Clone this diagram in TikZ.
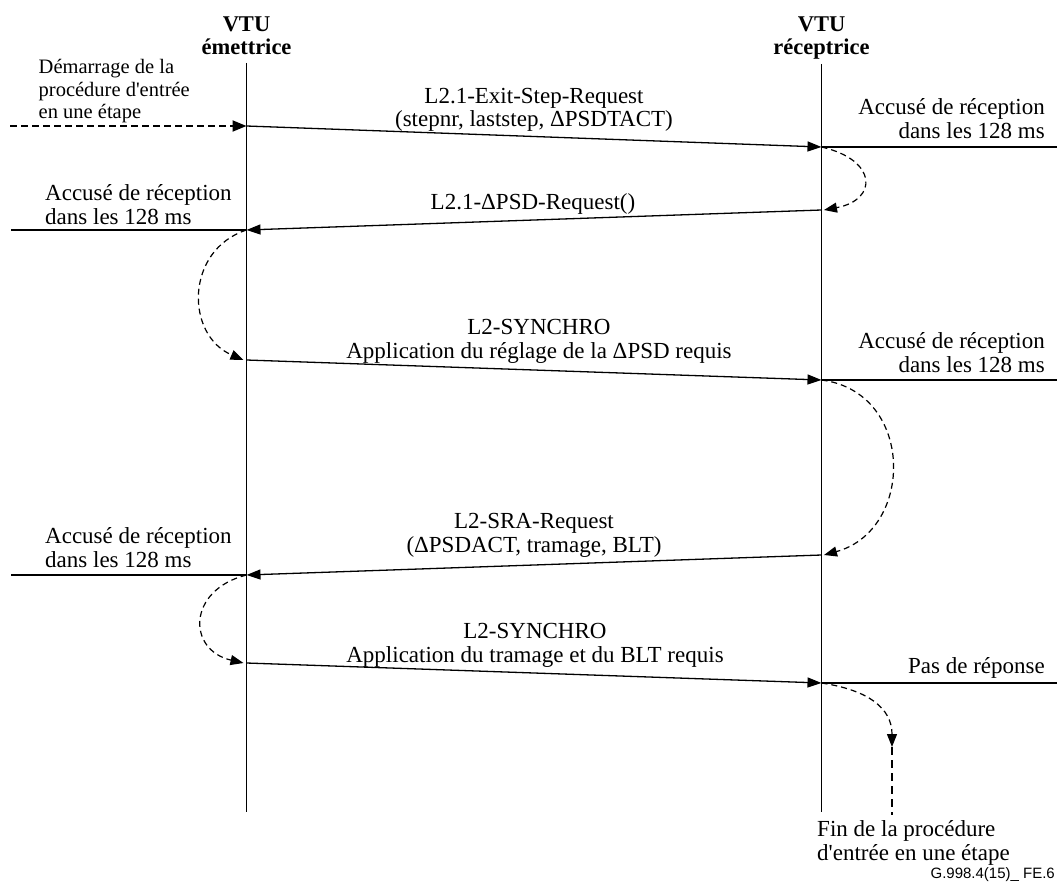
\documentclass[tikz,border=0pt]{standalone}
\usepackage{fontspec}
\setmainfont{Liberation Serif}
\newfontfamily\figsans{Liberation Sans}
\usetikzlibrary{arrows.meta}
\begin{document}
\begin{tikzpicture}[x=1pt,y=-1pt,
  lbl/.style={inner sep=0pt, font=\fontsize{23}{24}\selectfont},
  smalllbl/.style={inner sep=0pt, font=\fontsize{20.5}{22.5}\selectfont},
  head/.style={inner sep=0pt, align=center, font=\fontsize{22.5}{23}\selectfont\bfseries},
  lifeline/.style={line width=1.3pt},
  msg/.style={line width=1.3pt, -{Triangle[length=14pt,width=10pt]}},
  ackline/.style={line width=1.3pt},
  loop/.style={line width=1.2pt, dash pattern=on 6pt off 4pt, -{Triangle[length=13pt,width=10pt]}},
  startarrow/.style={line width=2pt, dash pattern=on 7pt off 4pt, -{Triangle[length=14pt,width=11pt]}},
  endline/.style={line width=2.6pt, dash pattern=on 8pt off 5pt}
]
\useasboundingbox (0,0) rectangle (1059,888);

% lifeline heads (base anchor sits on the last line)
\node[head, anchor=base] (hE) at (246.5,55) {VTU\\émettrice};
\node[head, anchor=base] (hR) at (821.5,55) {VTU\\réceptrice};

% lifelines
\coordinate (L0) at (246.5,63);  \coordinate (L1) at (246.5,812);
\coordinate (R0) at (821.5,64);  \coordinate (R1) at (821.5,812);
\draw[lifeline] (L0) -- (L1);
\draw[lifeline] (R0) -- (R1);

% message end points on the lifelines
\coordinate (a1) at (246.5,126); \coordinate (b1) at (821.5,147);
\coordinate (b2) at (821.5,210); \coordinate (a2) at (246.5,230);
\coordinate (a3) at (246.5,360); \coordinate (b3) at (821.5,380);
\coordinate (b4) at (821.5,555); \coordinate (a4) at (246.5,575);
\coordinate (a5) at (246.5,663); \coordinate (b5) at (821.5,683);

% free ends
\coordinate (s0) at (10,126);
\coordinate (k1) at (1057,147);
\coordinate (k2) at (11,230);
\coordinate (k3) at (1057,380);
\coordinate (k4) at (11,575);
\coordinate (k5) at (1057,683);
\coordinate (e1) at (892,747);
\coordinate (e2) at (892,815);

% start of the procedure
\node[smalllbl, anchor=base west, align=left] (start) at (38.5,119)
  {Démarrage de la\\procédure d\textquotesingle entrée\\en une étape};
\draw[startarrow] (s0) -- (a1);

% message 1
\draw[msg] (a1) -- (b1);
\node[lbl, anchor=base, align=center] (m1) at (534,127)
  {L2.1-Exit-Step-Request\\(stepnr, laststep, ΔPSDTACT)};
\draw[ackline] (b1) -- (k1);
\node[lbl, anchor=base east, align=right] (ack1) at (1045,138)
  {Accusé de réception\\dans les 128 ms};
\draw[loop] (b1) .. controls (878,160) and (878,200) .. (824,210);

% message 2
\draw[msg] (b2) -- (a2);
\node[lbl, anchor=base] (m2) at (533,209) {L2.1-ΔPSD-Request()};
\draw[ackline] (k2) -- (a2);
\node[lbl, anchor=base west, align=left] (ack2) at (45,224)
  {Accusé de réception\\dans les 128 ms};
\draw[loop] (a2) .. controls (185,250) and (185,335) .. (243.5,360);

% message 3
\draw[msg] (a3) -- (b3);
\node[lbl, anchor=base, align=center] (m3) at (539,358)
  {L2-SYNCHRO\\Application du réglage de la ΔPSD requis};
\draw[ackline] (b3) -- (k3);
\node[lbl, anchor=base east, align=right] (ack3) at (1045,372)
  {Accusé de réception\\dans les 128 ms};
\draw[loop] (b3) .. controls (915,392) and (915,530) .. (824,555);

% message 4
\draw[msg] (b4) -- (a4);
\node[lbl, anchor=base, align=center] (m4) at (534,552)
  {L2-SRA-Request\\(ΔPSDACT, tramage, BLT)};
\draw[ackline] (k4) -- (a4);
\node[lbl, anchor=base west, align=left] (ack4) at (45,567)
  {Accusé de réception\\dans les 128 ms};
\draw[loop] (a4) .. controls (187,590) and (187,650) .. (243.5,663);

% message 5
\draw[msg] (a5) -- (b5);
\node[lbl, anchor=base, align=center] (m5) at (535,662)
  {L2-SYNCHRO\\Application du tramage et du BLT requis};
\draw[ackline] (b5) -- (k5);
\node[lbl, anchor=base east] (ack5) at (1045,673) {Pas de réponse};
\draw[loop] (b5) .. controls (868,690) and (892,708) .. (e1);
\draw[endline] (e1) -- (e2);

% end of the procedure
\node[lbl, anchor=base west, align=left] (fin) at (817,860)
  {Fin de la procédure\\d\textquotesingle entrée en une étape};

% figure reference
\node[inner sep=0pt, anchor=base east, font=\figsans\fontsize{15}{16}\selectfont] (ref) at (1055,878)
  {G.998.4(15)\_ FE.6};
\end{tikzpicture}
\end{document}
